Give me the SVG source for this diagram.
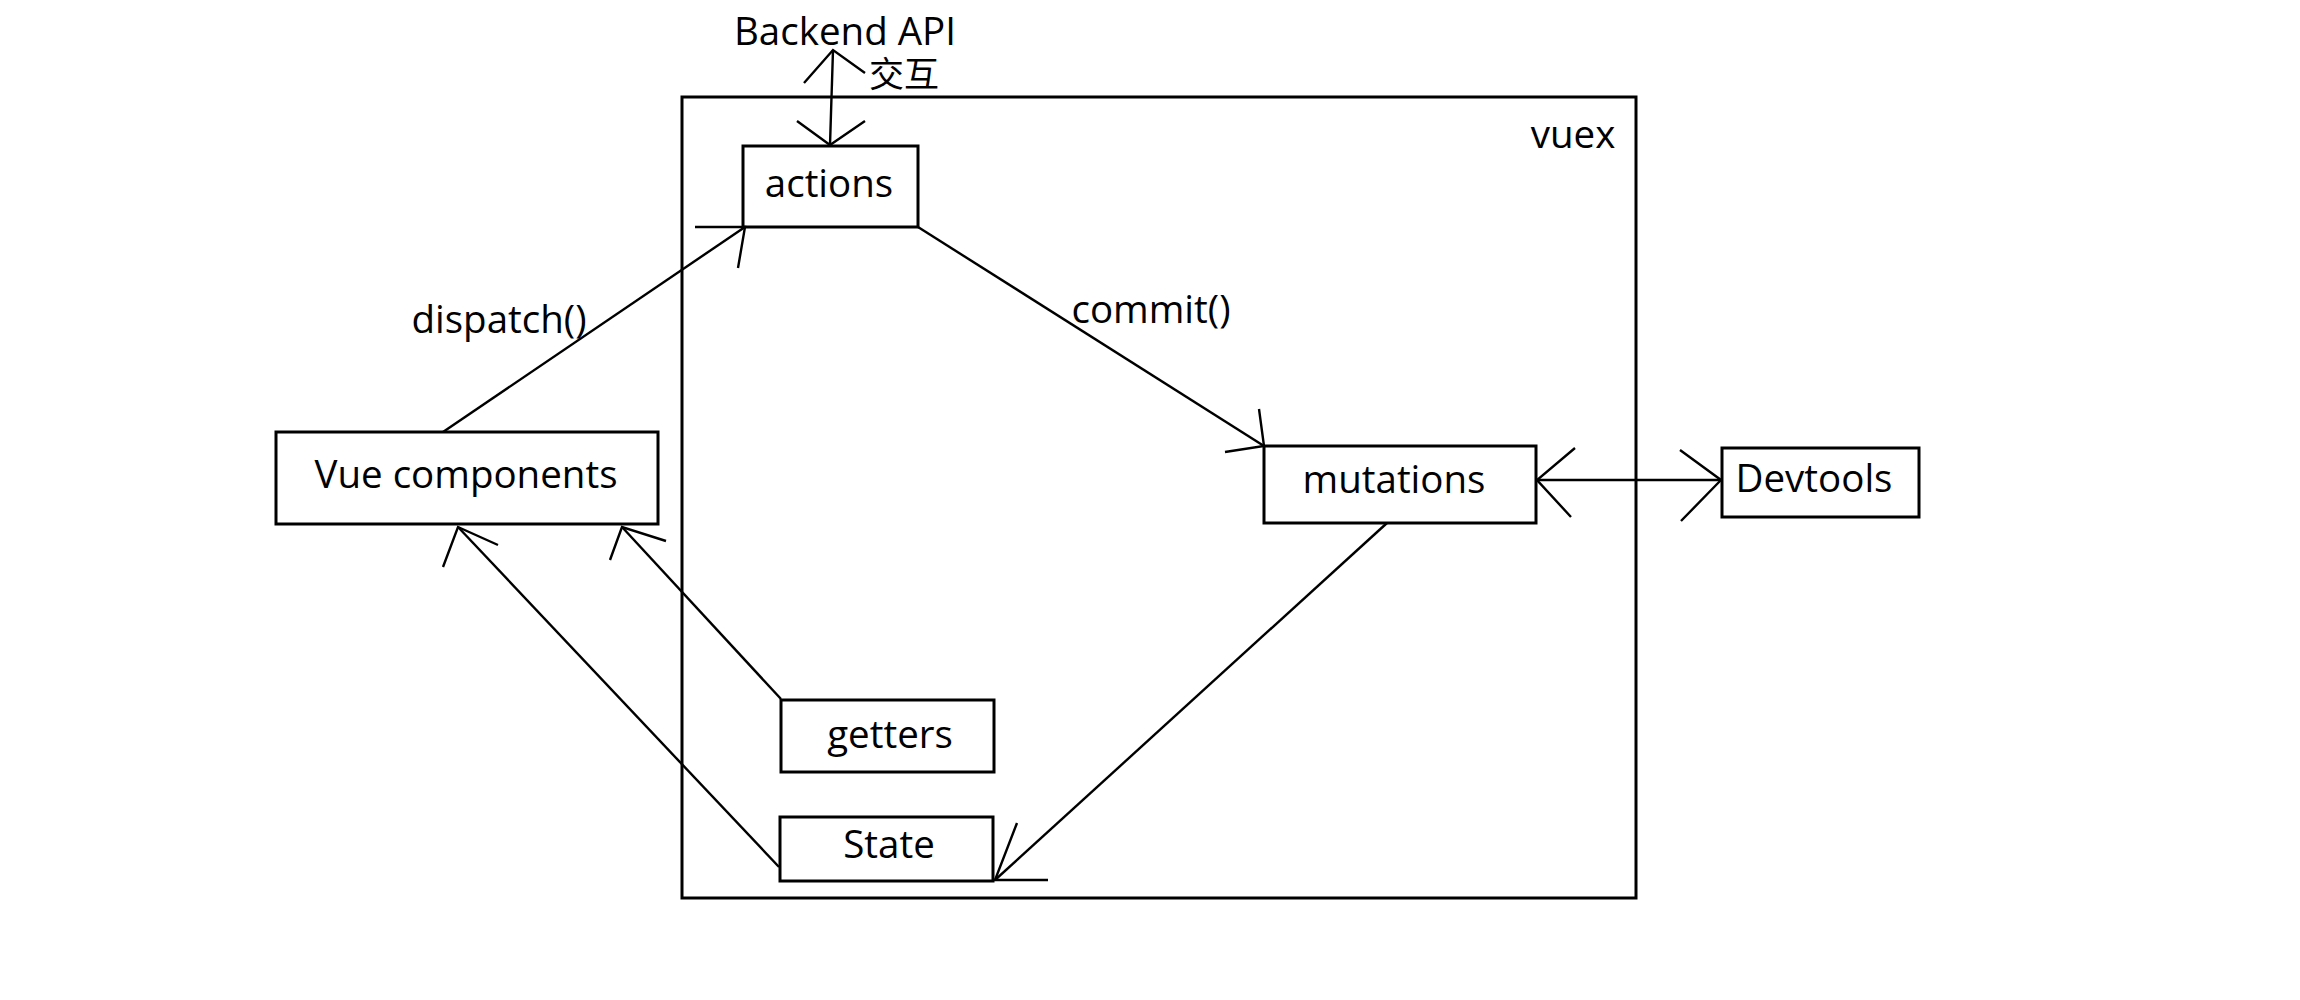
<svg xmlns="http://www.w3.org/2000/svg" width="2300" height="1000" viewBox="0 0 2300 1000">
  <style>
    .box { fill: #ffffff; stroke: #000000; stroke-width: 3; }
    .frame { fill: none; stroke: #000000; stroke-width: 3; }
    .lbl { font-family: "Open Sans", "Noto Sans", "Noto Sans CJK SC", sans-serif; font-size: 38.5px; fill: #000000; text-anchor: middle; }
    .cn { font-family: "Noto Sans CJK SC", "Noto Sans", sans-serif; font-size: 35px; fill: #000000; text-anchor: middle; }
    .conn line, .conn polyline { fill: none; stroke: #000000; stroke-width: 2.4; stroke-linecap: butt; stroke-linejoin: miter; }
  </style>
  <rect width="2300" height="1000" fill="#ffffff"/>

  <g id="vuex">
    <rect class="frame" x="682" y="97" width="954" height="801"/>
    <text class="lbl" x="1573" y="148">vuex</text>
  </g>

  <g id="backend-api">
    <text class="lbl" x="845" y="45">Backend API</text>
  </g>

  <g id="actions">
    <rect class="box" x="743" y="146" width="175" height="81"/>
    <text class="lbl" x="829" y="197">actions</text>
  </g>

  <g id="vue-components">
    <rect class="box" x="276" y="432" width="382" height="92"/>
    <text class="lbl" x="466" y="488">Vue components</text>
  </g>

  <g id="mutations">
    <rect class="box" x="1264" y="446" width="272" height="77"/>
    <text class="lbl" x="1394" y="493">mutations</text>
  </g>

  <g id="devtools">
    <rect class="box" x="1722" y="448" width="197" height="69"/>
    <text class="lbl" x="1814" y="492">Devtools</text>
  </g>

  <g id="getters">
    <rect class="box" x="781" y="700" width="213" height="72"/>
    <text class="lbl" x="890" y="748">getters</text>
  </g>

  <g id="state">
    <rect class="box" x="780" y="817" width="213" height="64"/>
    <text class="lbl" x="889" y="858">State</text>
  </g>

  <g id="connectors" class="conn">
    <!-- Backend API <-> actions -->
    <line x1="833" y1="50" x2="830" y2="145"/>
    <polyline points="804,83 833,50 865,73"/>
    <polyline points="797,121 830,145 865,121"/>
    <text class="cn" x="904" y="87">交互</text>

    <!-- dispatch -->
    <line x1="443" y1="432" x2="745" y2="227"/>
    <polyline points="695,227 745,227 738,268"/>
    <text class="lbl" x="499" y="333">dispatch()</text>

    <!-- commit -->
    <line x1="918" y1="227" x2="1264" y2="446"/>
    <polyline points="1259,409 1264,446 1225,452"/>
    <text class="lbl" x="1151" y="323">commit()</text>

    <!-- mutations <-> Devtools -->
    <line x1="1537" y1="480" x2="1721" y2="480"/>
    <polyline points="1575,448 1537,480 1571,517"/>
    <polyline points="1680,450 1721,480 1681,521"/>

    <!-- mutations -> State -->
    <line x1="1387" y1="523" x2="995" y2="880"/>
    <polyline points="1017,823 995,880 1048,880"/>

    <!-- getters -> Vue components -->
    <line x1="781" y1="699" x2="622" y2="527"/>
    <polyline points="666,541 622,527 610,560"/>

    <!-- State -> Vue components -->
    <line x1="779" y1="867" x2="458" y2="527"/>
    <polyline points="498,545 458,527 443,567"/>
  </g>
</svg>
